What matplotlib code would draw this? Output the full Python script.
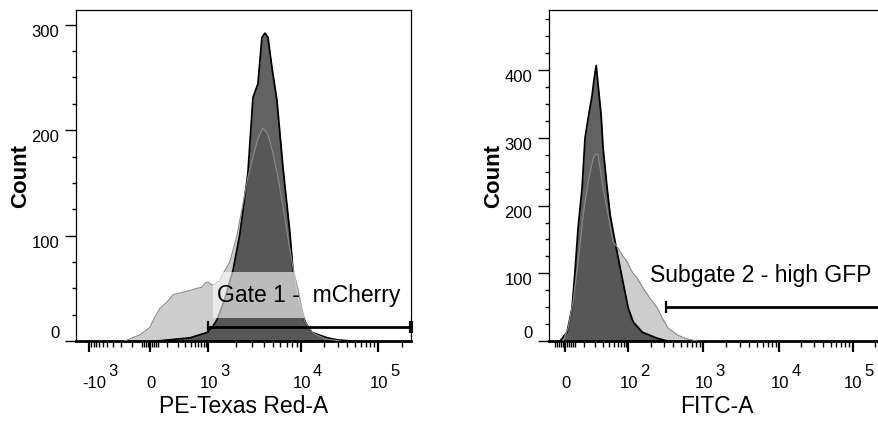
import numpy as np
import matplotlib
matplotlib.use('Agg')
import matplotlib.pyplot as plt
from matplotlib.patches import Rectangle

plt.rcParams['font.family'] = ['Liberation Sans', 'DejaVu Sans']

# PE-Texas Red-A histograms (fluorescence value, count)
pe_light_x = [-160, -50, 0, 26, 54, 100, 150, 250, 390, 560, 730, 860, 1000, 1110, 1190,
              1350, 1520, 1720, 2050, 2380, 2690, 3050, 3450, 3900, 4420, 5000, 5660,
              6400, 7240, 8200, 9300, 11300, 13900, 20700, 32600]
pe_light_y = [0, 6, 13, 23, 31, 37, 44, 46, 48, 50, 51, 55, 56, 53, 54,
              58, 67, 75, 100, 130, 155, 175, 192, 202, 196, 178, 155,
              128, 98, 70, 42, 18, 8, 2, 0]
pe_dark_x = [40, 390, 950, 1110, 1250, 1520, 1860, 2210, 2690, 3050, 3450, 3810, 4100,
             4420, 4870, 5520, 6400, 7620, 8200, 9300, 10000, 11300, 13900, 22000, 30000, 44000]
pe_dark_y = [0, 3, 8, 13, 20, 40, 67, 102, 159, 231, 244, 288, 292,
             288, 260, 228, 165, 102, 67, 48, 33, 18, 8, 3, 1, 0]

# FITC-A histograms
fitc_dark_x = [-2.4, 0.95, 3.4, 4.9, 6.6, 9.0, 11.0, 13.3, 16.7, 18.7, 20.8, 23.0, 26.8,
               29.6, 36.2, 42.0, 53.5, 68.1, 82.7, 100, 117, 154, 244, 331]
fitc_dark_y = [0, 13, 49, 102, 167, 226, 300, 329, 363, 388, 407, 378, 334,
               285, 226, 186, 146, 108, 78, 49, 28, 13, 4, 0]
fitc_light_x = [-0.95, 1.43, 3.9, 6.6, 9.7, 13.3, 17.7, 20.8, 23.0, 29.6, 38.0, 48.6, 61.9,
                75.0, 95.4, 113, 132, 158, 196, 244, 284, 341, 450, 612, 832]
fitc_light_y = [0, 19, 58, 117, 186, 235, 270, 277, 275, 226, 186, 146, 137,
                127, 117, 102, 93, 78, 63, 49, 34, 19, 9, 3, 0]

# gates: (start, end, height, label)
gate1 = (1000, 262144, 13, 'Gate 1 -  mCherry')
gate2 = (321, 262144, 50, 'Subgate 2 - high GFP')

light_col = '#cdcdcd'
dark_col = '#363636'


def biex(anchors, pos, w):
    a = np.arcsinh(np.asarray(anchors, float) / w)
    p = np.asarray(pos, float)

    def fwd(x):
        return np.interp(np.arcsinh(np.asarray(x, float) / w), a, p)

    def inv(y):
        return w * np.sinh(np.interp(np.asarray(y, float), p, a))
    return fwd, inv


def decade_labels(ax, majors, labels):
    for v, (base, exp) in zip(majors, labels):
        kw = dict(xycoords=('data', 'axes fraction'), textcoords='offset pixels',
                  fontsize=12, va='baseline', annotation_clip=False)
        if exp:
            dx = 17 if base.startswith('-') else 10
            ax.annotate(base, (v, 0), xytext=(dx, -47), ha='right', **kw)
            ax.annotate(exp, (v, 0), xytext=(dx + 2, -35), ha='left', **kw)
        else:
            ax.annotate(base, (v, 0), xytext=(1, -47), ha='center', **kw)


def style(ax, ymax, ystep, xlabel):
    ax.set_ylim(0, ymax)
    ax.set_yticks(np.arange(0, ymax, 100))
    ax.set_yticks([v for v in np.arange(ystep, ymax, ystep) if v % 100], minor=True)
    ax.tick_params(axis='y', which='major', length=8, width=1, labelsize=12, pad=4, colors='black')
    ax.tick_params(axis='y', which='minor', length=3, width=1)
    ax.tick_params(axis='x', which='major', length=8, width=1.6, labelbottom=False)
    ax.tick_params(axis='x', which='minor', length=4.5, width=1)
    for s in ['left', 'top', 'right']:
        ax.spines[s].set_linewidth(0.9)
    ax.spines['bottom'].set_linewidth(2)
    labs = ax.get_yticklabels()
    for lab in labs:
        lab.set_va('top')
    labs[0].set_va('bottom')
    ax.set_ylabel('Count', fontsize=16, fontweight='bold')
    ax.yaxis.set_label_coords(-0.135, 0.498)
    ax.set_xlabel(xlabel, fontsize=16.5)
    ax.xaxis.label.set_va('baseline')
    ax.xaxis.set_label_coords(0.5, -0.2175)


def draw_hist(ax, lx, ly, dx, dy):
    ax.fill_between(lx, ly, color=light_col, lw=0, zorder=1)
    ax.fill_between(dx, dy, color=dark_col, alpha=0.78, lw=0, zorder=2)
    ax.plot(dx, dy, color='black', lw=1.3, zorder=3)
    ax.plot(lx, ly, color='#8a8a8a', lw=0.8, zorder=3)


def draw_gate(ax, gate, text_x, text_y, end_cap):
    lo, hi, y, label = gate
    ax.plot([lo, hi], [y, y], color='black', lw=2, solid_capstyle='butt', zorder=6)
    ax.plot([lo], [y], marker='|', ms=9, mew=1.6, color='black', zorder=6)
    if end_cap:
        ax.plot([hi], [y], marker='|', ms=9, mew=3, color='black', zorder=6, clip_on=False)
    ax.text(text_x, text_y, label, fontsize=16.5, ha='left', va='baseline', zorder=7)


fig = plt.figure(figsize=(8.79, 4.23), dpi=100)
W, H = 879.0, 423.0

# ---- left panel ----
ax1 = fig.add_axes([76 / W, (H - 341) / H, 335 / W, 331 / H])
ax1.set_xscale('function', functions=biex([-3000, -1000, 0, 1000, 1e4, 1e5, 1e6],
                                          [66.7, 89, 150, 208, 301, 378, 457], 100))
ax1.set_xlim(-1900, 262144)
draw_hist(ax1, pe_light_x, pe_light_y, pe_dark_x, pe_dark_y)
ax1.add_patch(Rectangle((1130, 22), 262144 - 1130, 43.5, facecolor='white',
                        alpha=0.6, edgecolor='none', zorder=5))
draw_gate(ax1, gate1, 1250, 37, True)
left_major = [-1000, 0, 1000, 1e4, 1e5]
left_minor = (list(range(-900, 0, 100)) + [-40, -30, -20, -10, 10, 20, 30, 40]
              + list(range(100, 1000, 100)) + list(range(2000, 10000, 1000))
              + list(range(20000, 100000, 10000)) + [200000])
ax1.set_xticks(left_major)
ax1.set_xticks(left_minor, minor=True)
style(ax1, 314, 25, 'PE-Texas Red-A')
decade_labels(ax1, left_major, [('-10', '3'), ('0', ''), ('10', '3'), ('10', '4'), ('10', '5')])

# ---- right panel ----
ax2 = fig.add_axes([549 / W, (H - 341) / H, 335 / W, 331 / H])
ax2.set_xscale('function', functions=biex([-1000, 0, 100, 1000, 1e4, 1e5, 1e6],
                                          [453.7, 565, 628, 703, 779, 852, 927], 10))
ax2.set_xlim(-8.4, 262144)
draw_hist(ax2, fitc_light_x, fitc_light_y, fitc_dark_x, fitc_dark_y)
draw_gate(ax2, gate2, 196, 87, False)
right_major = [0, 100, 1000, 1e4, 1e5]
right_minor = ([-5, -4, -3, -2, -1, 1, 2, 3, 4, 5] + list(range(10, 100, 10))
               + list(range(200, 1000, 100)) + list(range(2000, 10000, 1000))
               + list(range(20000, 100000, 10000)) + [200000])
ax2.set_xticks(right_major)
ax2.set_xticks(right_minor, minor=True)
style(ax2, 489, 25, 'FITC-A')
decade_labels(ax2, right_major, [('0', ''), ('10', '2'), ('10', '3'), ('10', '4'), ('10', '5')])

fig.savefig('out.png', dpi=100)
